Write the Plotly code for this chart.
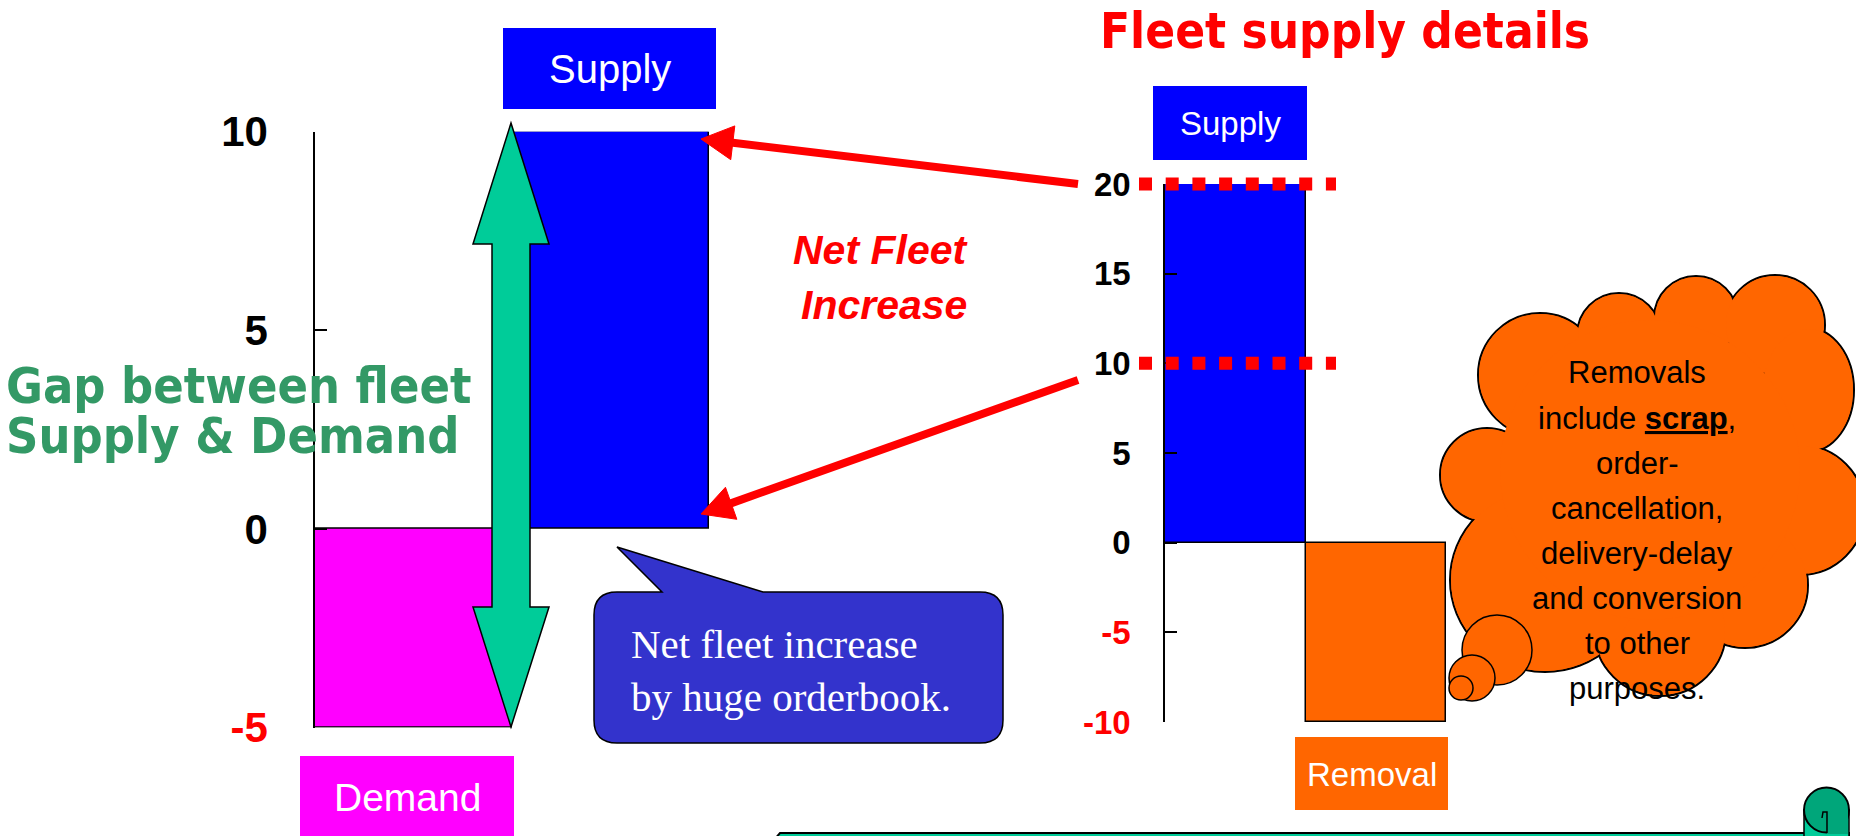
import math
import plotly.graph_objects as go

# ---------------- data ----------------
left_categories = ["Demand", "Supply"]
left_values = [-5, 10]
left_tickvals = [-5, 0, 5, 10]

right_categories = ["Supply", "Removal"]
right_values = [20, -10]
right_tickvals = [-10, -5, 0, 5, 10, 15, 20]

net_increase = right_values[0] + right_values[1]   # 10
supply_total = right_values[0]                      # 20

cloud_lines = ["Removals", "include <b><u>scrap</u></b>,", "order-", "cancellation,",
               "delivery-delay", "and conversion", "to other", "purposes."]
callout_lines = ["Net fleet increase", "by huge orderbook."]

# ---------------- layout helpers ----------------
OFF = 8                      # page body margin
W, H = 1864 - OFF, 836 - OFF
def PX(x): return (x - OFF) / W
def PY(y): return 1 - (y - OFF) / H

COND = "DejaVu Sans Condensed, DejaVu Sans, Verdana"
SANS = "Liberation Sans, Arial"
SERIF = "Liberation Serif, Times New Roman, serif"

BLUE = "#0000FF"
MAGENTA = "#FF00FF"
ORANGE = "#FF6600"
RED = "#FF0000"

def ticktext(vals):
    return ["<span style='color:#FF0000'>%d</span>" % v if v < 0 else "%d" % v for v in vals]

# axis placement (screen pixels)
lx0, lx1 = 315, 709
ly_top, ly_bot = 131.7, 727.6
rx0, rx1 = 1165, 1446
ry_top, ry_bot = 184, 722
right_range = [-10, 20]

def right_value_to_paper(v):
    frac = (v - right_range[0]) / (right_range[1] - right_range[0])
    return PY(ry_bot) + frac * (PY(ry_top) - PY(ry_bot))

fig = go.Figure()
fig.add_trace(go.Bar(x=left_categories, y=left_values, width=1,
                     marker=dict(color=[MAGENTA, BLUE], line=dict(color="black", width=1.5)),
                     xaxis="x", yaxis="y", showlegend=False, hoverinfo="skip"))
fig.add_trace(go.Bar(x=right_categories, y=right_values, width=1,
                     marker=dict(color=[BLUE, ORANGE], line=dict(color="black", width=1.5)),
                     xaxis="x2", yaxis="y2", showlegend=False, hoverinfo="skip"))

shapes = []
annotations = []

def poly(points, fill, line_color="black", lw=1.5, closed=True):
    s = "M " + " L ".join("%.5f,%.5f" % (PX(x), PY(y)) for x, y in points)
    if closed:
        s += " Z"
    return dict(type="path", xref="paper", yref="paper", path=s, fillcolor=fill,
                line=dict(color=line_color, width=lw))

def rect(x0, y0, x1, y1, fill, line_color=None, lw=0):
    return dict(type="rect", xref="paper", yref="paper", x0=PX(x0), x1=PX(x1),
                y0=PY(y1), y1=PY(y0), fillcolor=fill,
                line=dict(color=line_color or fill, width=lw))

def ellipse(cx, cy, rx, ry, fill, line_color=None, lw=0):
    return dict(type="circle", xref="paper", yref="paper", x0=PX(cx - rx), x1=PX(cx + rx),
                y0=PY(cy + ry), y1=PY(cy - ry), fillcolor=fill,
                line=dict(color=line_color or fill, width=lw))

def text(x, y, t, size, color="black", family=SANS, xanchor="center", yanchor="middle", align="center"):
    annotations.append(dict(x=PX(x), y=PY(y), xref="paper", yref="paper", text=t, showarrow=False,
                            font=dict(size=size, color=color, family=family),
                            xanchor=xanchor, yanchor=yanchor, align=align))

# ---------- category label boxes ----------
shapes.append(rect(503, 28, 716, 109, BLUE))
text(609.5, 69, "Supply", 40, "white")
shapes.append(rect(300, 756, 514, 845, MAGENTA))
text(407, 797, "Demand", 39, "white")
shapes.append(rect(1153, 86, 1307, 160, BLUE))
text(1230, 124, "Supply", 33, "white")
shapes.append(rect(1295, 737, 1448, 810, ORANGE))
text(1371.5, 774, "Removal", 33, "white")

# ---------- red dotted reference lines at the right chart's values ----------
for v in [supply_total, net_increase]:
    yp = right_value_to_paper(v)
    shapes.append(dict(type="line", xref="paper", yref="paper", x0=PX(1139), x1=PX(1336), y0=yp, y1=yp,
                       line=dict(color=RED, width=13, dash="13px,13.7px")))

# ---------- red arrows ----------
def red_arrow(tail, tip, L=32, hw=17, lw=8):
    dx, dy = tip[0] - tail[0], tip[1] - tail[1]
    n = math.hypot(dx, dy)
    ux, uy = dx / n, dy / n
    bx, by = tip[0] - ux * L, tip[1] - uy * L
    px_, py_ = -uy, ux
    shapes.append(dict(type="line", xref="paper", yref="paper", x0=PX(tail[0]), y0=PY(tail[1]),
                       x1=PX(bx + ux * 4), y1=PY(by + uy * 4), line=dict(color=RED, width=lw)))
    shapes.append(poly([tip, (bx + px_ * hw, by + py_ * hw), (bx - px_ * hw, by - py_ * hw)],
                       RED, RED, 1))

red_arrow((1078, 184), (701, 139))
red_arrow((1078, 380), (701, 514))

# ---------- green double arrow ----------
GREEN_ARROW = "#00CC99"
shapes.append(poly([(511, 123), (549, 244), (530, 244), (530, 607), (549, 607), (511, 727),
                    (473, 607), (492, 607), (492, 244), (473, 244)], GREEN_ARROW, "black", 1.5))

# ---------- blue callout ----------
r = 23
x0, x1, y0, y1 = 594, 1003, 592, 743
cp = [("M", (x0 + r, y0)), ("L", (662, y0)), ("L", (617, 547)), ("L", (763, y0)), ("L", (x1 - r, y0)),
      ("Q", (x1, y0), (x1, y0 + r)), ("L", (x1, y1 - r)), ("Q", (x1, y1), (x1 - r, y1)),
      ("L", (x0 + r, y1)), ("Q", (x0, y1), (x0, y1 - r)), ("L", (x0, y0 + r)),
      ("Q", (x0, y0), (x0 + r, y0))]
path = ""
for seg in cp:
    path += seg[0] + " " + " ".join("%.5f,%.5f" % (PX(p[0]), PY(p[1])) for p in seg[1:]) + " "
path += "Z"
shapes.append(dict(type="path", xref="paper", yref="paper", path=path, fillcolor="#3333CC",
                   line=dict(color="black", width=1.5)))
text(629, 670, "<br>".join(callout_lines), 41, "white", SERIF, xanchor="left", align="left")

# ---------- cloud ----------
lobes = [(1487, 475, 47, 47), (1540, 375, 62, 62), (1619, 335, 42, 42), (1696, 318, 42, 42),
         (1775, 325, 50, 50), (1808, 390, 46, 62), (1800, 510, 65, 65), (1745, 585, 63, 63),
         (1660, 630, 66, 66), (1545, 580, 95, 92)]
for cx, cy, rx, ry in lobes:
    shapes.append(ellipse(cx, cy, rx, ry, ORANGE, "black", 2))
for cx, cy, rx, ry in lobes:
    shapes.append(ellipse(cx, cy, rx - 1.0, ry - 1.0, ORANGE, ORANGE, 0))
shapes.append(ellipse(1650, 470, 150, 150, ORANGE, ORANGE, 0))
for cx, cy, rr in [(1497, 650, 35), (1472, 678, 23), (1461, 688, 12)]:
    shapes.append(ellipse(cx, cy, rr, rr, ORANGE, "black", 1.5))
for i, line in enumerate(cloud_lines):
    text(1637, 373 + 45 * i, line, 31, "black")

# ---------- bottom scroll box ----------
shapes.append(poly([(774, 850), (774, 840), (780, 833), (1849, 833), (1849, 850)], GREEN_ARROW, "black", 2))
shapes.append(rect(1804, 810, 1849, 840, "#00CC99", "black", 1.5))
shapes.append(ellipse(1826.5, 810, 22.5, 22.5, "#00A67A", "black", 2))
shapes.append(rect(1827, 810, 1848, 834, "#00A67A"))
shapes.append(poly([(1827, 833), (1827, 812), (1823, 812), (1822, 818)], "rgba(0,0,0,0)", "black", 1.5, closed=False))

# ---------- text ----------
text(4, 386, "<b>Gap between fleet</b>", 50, "#339966", COND, xanchor="left")
text(4, 436, "<b>Supply & Demand</b>", 50, "#339966", COND, xanchor="left")
text(880, 250, "<b><i>Net Fleet</i></b>", 41, RED)
text(884, 305, "<b><i>Increase</i></b>", 41, RED)
text(1345, 31, "<b>Fleet supply details</b>", 49, RED, COND)

# ---------- axes ----------
fig.update_layout(
    width=W, height=H, margin=dict(l=0, r=0, t=0, b=0, pad=0, autoexpand=False),
    paper_bgcolor="white", plot_bgcolor="rgba(0,0,0,0)",
    bargap=0, showlegend=False,
    xaxis=dict(domain=[PX(lx0), PX(lx1)], range=[-0.5, 1.5], visible=False, automargin=False),
    yaxis=dict(domain=[PY(ly_bot), PY(ly_top)], range=[-5, 10], tickvals=left_tickvals,
               ticktext=ticktext(left_tickvals), ticks="inside", ticklen=12, tickwidth=1.5,
               tickcolor="black", showline=True, linecolor="black", linewidth=1.5,
               showgrid=False, zeroline=False, ticklabelstandoff=37, automargin=False,
               tickfont=dict(family=SANS, size=42, color="black", weight="bold")),
    xaxis2=dict(domain=[PX(rx0), PX(rx1)], range=[-0.5, 1.5], visible=False, anchor="y2",
                automargin=False),
    yaxis2=dict(domain=[PY(ry_bot), PY(ry_top)], range=right_range, tickvals=right_tickvals,
                ticktext=ticktext(right_tickvals), ticks="inside", ticklen=12, tickwidth=1.5,
                tickcolor="black", showline=True, linecolor="black", linewidth=1.5,
                showgrid=False, zeroline=False, anchor="x2", ticklabelstandoff=26, automargin=False,
                tickfont=dict(family=SANS, size=33, color="black", weight="bold")),
    shapes=shapes, annotations=annotations,
)
fig.write_html("out.html")
